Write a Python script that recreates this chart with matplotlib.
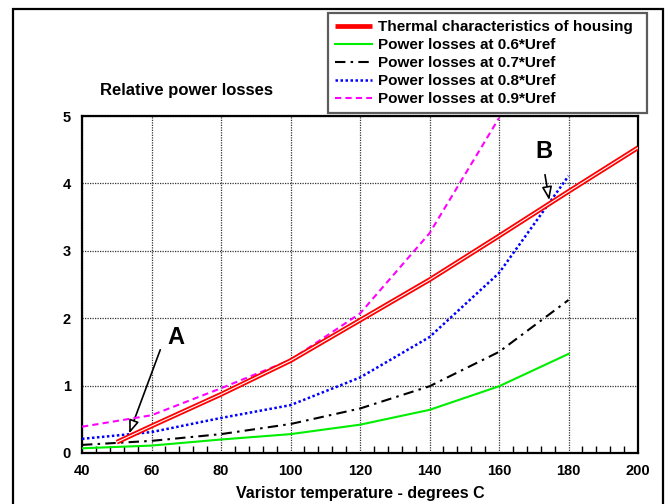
import matplotlib
matplotlib.use("Agg")
import matplotlib.pyplot as plt
from matplotlib.patches import Rectangle
from matplotlib.ticker import MultipleLocator

plt.rcParams['font.family'] = ['Liberation Sans', 'DejaVu Sans']
plt.rcParams['font.weight'] = 'bold'

# Data
temp_thermal = [50, 60, 80, 100, 120, 140, 160, 180, 200]
thermal = [0.16, 0.40, 0.87, 1.37, 1.97, 2.57, 3.22, 3.88, 4.53]

temp = [40, 60, 80, 100, 120, 140, 160, 180]
p06 = [0.07, 0.11, 0.20, 0.28, 0.42, 0.64, 0.99, 1.47]
p07 = [0.12, 0.18, 0.28, 0.43, 0.66, 0.99, 1.50, 2.27]
p08 = [0.21, 0.31, 0.52, 0.71, 1.12, 1.72, 2.67, 4.11]
temp09 = [40, 60, 80, 100, 120, 140, 160]
p09 = [0.39, 0.56, 0.96, 1.38, 2.07, 3.26, 4.97]

labels = ["Thermal characteristics of housing",
          "Power losses at 0.6*Uref",
          "Power losses at 0.7*Uref",
          "Power losses at 0.8*Uref",
          "Power losses at 0.9*Uref"]

fig = plt.figure(figsize=(6.69, 5.04), dpi=100)
ax = fig.add_axes([82/669, 1-453/504, (638-82)/669, (453-116)/504])

ax.plot(temp_thermal, thermal, color='#ff0000', lw=3.4, solid_capstyle='butt', label=labels[0], zorder=5)
ax.plot(temp_thermal, thermal, color='white', lw=0.8, solid_capstyle='butt', zorder=6)
ax.plot(temp, p06, color='#00ee00', lw=1.5, label=labels[1], zorder=4)
ax.plot(temp, p07, color='black', lw=1.5, dashes=(5, 2.5, 1.2, 2.5), label=labels[2], zorder=4)
ax.plot(temp, p08, color='#0000ff', lw=1.8, dashes=(1, 1), label=labels[3], zorder=4)
ax.plot(temp09, p09, color='#ff00ff', lw=1.5, dashes=(3, 2), label=labels[4], zorder=4)

ax.set_xlim(40, 200)
ax.set_ylim(0, 5)
ax.xaxis.set_major_locator(MultipleLocator(20))
ax.xaxis.set_minor_locator(MultipleLocator(4))
ax.yaxis.set_major_locator(MultipleLocator(1))
ax.grid(True, which='major', color='#333333', lw=0.9, ls=(0, (1, 1)))
ax.tick_params(axis='x', which='minor', direction='in', length=5, width=1, top=False)
ax.tick_params(axis='both', which='major', direction='in', length=0, labelsize=10.5, pad=8)
for lbl in ax.get_xticklabels() + ax.get_yticklabels():
    lbl.set_fontweight('bold')
for s in ax.spines.values():
    s.set_linewidth(1.6)

ax.set_xlabel("Varistor temperature - degrees C", fontsize=11.5, fontweight='bold', labelpad=6)
fig.text(187/669, 1-90/504, "Relative power losses", ha='center', va='center', fontsize=12, fontweight='bold')

# Annotations
ax.annotate("", xy=(53.3, 0.25), xytext=(62.8, 1.57),
            arrowprops=dict(arrowstyle='-|>,head_length=0.8,head_width=0.3', fc='white', ec='black', lw=1.2))
ax.text(66.9, 1.71, "A", fontsize=17, fontweight='bold', ha='center', va='center')
ax.annotate("", xy=(174.6, 3.71), xytext=(173.1, 4.17),
            arrowprops=dict(arrowstyle='-|>,head_length=0.8,head_width=0.3', fc='white', ec='black', lw=1.2))
ax.text(172.8, 4.47, "B", fontsize=17, fontweight='bold', ha='center', va='center')

# Legend
handles, labs = ax.get_legend_handles_labels()
leg = fig.legend(handles, labs, loc='upper left',
                 bbox_to_anchor=(328/669, 1-114/504, (647-328)/669, 101/504), mode='expand',
                 borderaxespad=0, fancybox=False, frameon=True, edgecolor='#333333',
                 prop={'size': 11, 'weight': 'bold'}, handlelength=2.4, handletextpad=0.4,
                 labelspacing=0.26, borderpad=0.47)
leg.get_frame().set_linewidth(1.6)

# Outer frame
fig.patches.append(Rectangle((13/669, -0.2), (663-13)/669, 1.2 - 9/504, transform=fig.transFigure,
                             fill=False, ec='black', lw=1.6))

fig.savefig("out.png", dpi=100)
